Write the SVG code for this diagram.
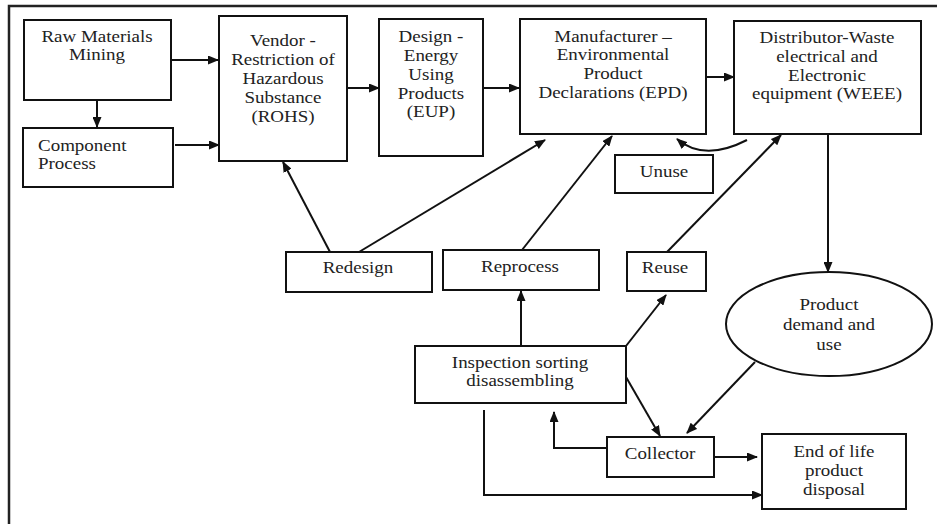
<svg xmlns="http://www.w3.org/2000/svg" width="937" height="524" viewBox="0 0 937 524">
<style>
.box{fill:#fff;stroke:#111;stroke-width:2}
.t{font-family:'Liberation Serif','DejaVu Serif','Times New Roman',serif;font-size:16.5px;fill:#222;text-anchor:middle}
.ts{font-family:'Liberation Serif','DejaVu Serif','Times New Roman',serif;font-size:16.5px;fill:#222;text-anchor:start}
.c{fill:none;stroke:#111;stroke-width:2}
</style>
<defs>
<marker id="ah" markerUnits="userSpaceOnUse" markerWidth="11" markerHeight="9" refX="10" refY="4.5" orient="auto">
<path d="M0,0 L11,4.5 L0,9 z" fill="#111"/>
</marker>
</defs>
<rect width="937" height="524" fill="#fff"/>
<path d="M9,524 V6 H937" fill="none" stroke="#222" stroke-width="2.5"/>

<g id="connectors">
<path class="c" d="M171,60 H218" marker-end="url(#ah)"/>
<path class="c" d="M97,100 V127" marker-end="url(#ah)"/>
<path class="c" d="M175,145 H219" marker-end="url(#ah)"/>
<path class="c" d="M347,88 H379" marker-end="url(#ah)"/>
<path class="c" d="M483,88 H519" marker-end="url(#ah)"/>
<path class="c" d="M706,77 H734" marker-end="url(#ah)"/>
<path class="c" d="M747,140 Q704,162 677,139" marker-end="url(#ah)"/>
<path class="c" d="M330,252 L283,162" marker-end="url(#ah)"/>
<path class="c" d="M359,252 L545,140" marker-end="url(#ah)"/>
<path class="c" d="M522,250 L612,136" marker-end="url(#ah)"/>
<path class="c" d="M667,252 L781,135" marker-end="url(#ah)"/>
<path class="c" d="M828,134 V272" marker-end="url(#ah)"/>
<path class="c" d="M521,346 V291" marker-end="url(#ah)"/>
<path class="c" d="M626,346 L666,295" marker-end="url(#ah)"/>
<path class="c" d="M626,377 L660,436" marker-end="url(#ah)"/>
<path class="c" d="M755,362 L687,433" marker-end="url(#ah)"/>
<path class="c" d="M607,448 H554 V412" marker-end="url(#ah)"/>
<path class="c" d="M714,457 H757" marker-end="url(#ah)"/>
<path class="c" d="M484,410 V495 H762" marker-end="url(#ah)"/>
</g>

<g id="raw">
<rect class="box" x="24" y="20" width="147" height="80"/>
<text class="t" transform="translate(97,0) scale(1.15,1)"><tspan x="0" y="42">Raw Materials</tspan><tspan x="0" y="60">Mining</tspan></text>
</g>
<g id="component">
<rect class="box" x="23" y="128" width="150" height="59"/>
<text class="ts" transform="translate(38,0) scale(1.15,1)"><tspan x="0" y="151">Component</tspan><tspan x="0" y="169">Process</tspan></text>
</g>
<g id="vendor">
<rect class="box" x="219" y="16" width="128" height="145"/>
<text class="t" transform="translate(283,0) scale(1.15,1)"><tspan x="0" y="46">Vendor -</tspan><tspan x="0" y="65">Restriction of</tspan><tspan x="0" y="84">Hazardous</tspan><tspan x="0" y="103">Substance</tspan><tspan x="0" y="122">(ROHS)</tspan></text>
</g>
<g id="design">
<rect class="box" x="379" y="19" width="104" height="137"/>
<text class="t" transform="translate(431,0) scale(1.15,1)"><tspan x="0" y="42">Design -</tspan><tspan x="0" y="61">Energy</tspan><tspan x="0" y="80">Using</tspan><tspan x="0" y="99">Products</tspan><tspan x="0" y="117">(EUP)</tspan></text>
</g>
<g id="manufacturer">
<rect class="box" x="520" y="19" width="186" height="115"/>
<text class="t" transform="translate(613,0) scale(1.15,1)"><tspan x="0" y="42">Manufacturer –</tspan><tspan x="0" y="60">Environmental</tspan><tspan x="0" y="79">Product</tspan><tspan x="0" y="98">Declarations (EPD)</tspan></text>
</g>
<g id="distributor">
<rect class="box" x="734" y="21" width="187" height="113"/>
<text class="t" transform="translate(827,0) scale(1.15,1)"><tspan x="0" y="43">Distributor-Waste</tspan><tspan x="0" y="62">electrical and</tspan><tspan x="0" y="81">Electronic</tspan><tspan x="0" y="99">equipment (WEEE)</tspan></text>
</g>
<g id="unuse">
<rect class="box" x="615" y="155" width="98" height="38"/>
<text class="t" transform="translate(664,0) scale(1.15,1)"><tspan x="0" y="177">Unuse</tspan></text>
</g>
<g id="redesign">
<rect class="box" x="286" y="252" width="146" height="40"/>
<text class="t" transform="translate(358,0) scale(1.15,1)"><tspan x="0" y="273">Redesign</tspan></text>
</g>
<g id="reprocess">
<rect class="box" x="443" y="250" width="156" height="40"/>
<text class="t" transform="translate(520,0) scale(1.15,1)"><tspan x="0" y="272">Reprocess</tspan></text>
</g>
<g id="reuse">
<rect class="box" x="627" y="252" width="79" height="39"/>
<text class="t" transform="translate(665,0) scale(1.15,1)"><tspan x="0" y="273">Reuse</tspan></text>
</g>
<g id="demand">
<ellipse class="box" cx="829" cy="324" rx="103" ry="52"/>
<text class="t" transform="translate(829,0) scale(1.15,1)"><tspan x="0" y="310">Product</tspan><tspan x="0" y="330">demand and</tspan><tspan x="0" y="350">use</tspan></text>
</g>
<g id="inspection">
<rect class="box" x="415" y="346" width="211" height="57"/>
<text class="t" transform="translate(520,0) scale(1.15,1)"><tspan x="0" y="368">Inspection sorting</tspan><tspan x="0" y="386">disassembling</tspan></text>
</g>
<g id="collector">
<rect class="box" x="607" y="437" width="107" height="40"/>
<text class="t" transform="translate(660,0) scale(1.15,1)"><tspan x="0" y="459">Collector</tspan></text>
</g>
<g id="endoflife">
<rect class="box" x="762" y="434" width="144" height="75"/>
<text class="t" transform="translate(834,0) scale(1.15,1)"><tspan x="0" y="457">End of life</tspan><tspan x="0" y="476">product</tspan><tspan x="0" y="495">disposal</tspan></text>
</g>
</svg>
